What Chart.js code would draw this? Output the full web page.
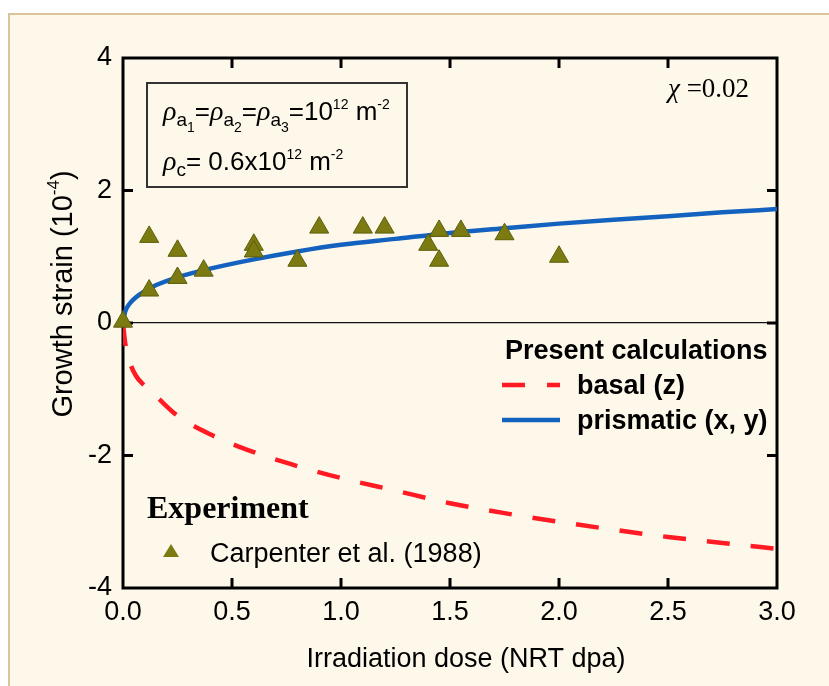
<!DOCTYPE html>
<html>
<head>
<meta charset="utf-8">
<script src="https://cdn.jsdelivr.net/npm/chart.js@4.4.1/dist/chart.umd.min.js"></script>
<style>
html, body { margin: 0; padding: 0; background: #fff; }
#frame {
    position: absolute; left: 8px; top: 13px; width: 821px; height: 673px;
    background: #fdf8ea; border-left: 2px solid #dcc39a; border-top: 2px solid #dcc39a;
}
#wrap { position: absolute; left: 0; top: 0; width: 829px; height: 686px; }
</style>
</head>
<body>
<div id="frame"></div>
<div id="wrap"><canvas id="chart" width="829" height="686"></canvas></div>
<script>
// calculated curves
const curveDose = [0, 0.01, 0.03, 0.06, 0.1, 0.15, 0.25, 0.4, 0.6, 0.8, 1.0, 1.25, 1.5, 1.75, 2.0, 2.25, 2.5, 2.75, 3.0]
const prismaticStrain = [0, 0.17, 0.29, 0.39, 0.48, 0.57, 0.69, 0.82, 0.96, 1.08, 1.18, 1.27, 1.36, 1.43, 1.5, 1.56, 1.61, 1.67, 1.72]
const basalStrain = [0, -0.3, -0.58, -0.8, -0.95, -1.1, -1.4, -1.68, -1.95, -2.16, -2.34, -2.53, -2.72, -2.87, -3.0, -3.12, -3.23, -3.32, -3.41]

// Carpenter et al. (1988)
const expDose = [0.0, 0.12, 0.12, 0.25, 0.25, 0.37, 0.6, 0.6, 0.8, 0.9, 1.1, 1.2, 1.4, 1.45, 1.45, 1.55, 1.75, 2.0]
const expStrain = [0.02, 1.30, 0.49, 1.09, 0.68, 0.79, 1.18, 1.08, 0.94, 1.44, 1.44, 1.44, 1.18, 1.39, 0.94, 1.39, 1.34, 1.0]

const xTicks = [0, 0.5, 1.0, 1.5, 2.0, 2.5, 3.0]
const yTicks = [-4, -2, 0, 2, 4]

const RED = '#ff1a24'
const BLUE = '#1462bf'
const OLIVE = '#7b7b12'
const SANS = '"Liberation Sans", Arial, sans-serif'
const SERIF = '"Liberation Serif", "Times New Roman", serif'

const toXY = (xs, ys) => xs.map((x, i) => ({ x: x, y: ys[i] }))

// draws a run of text pieces: [text, font, dy]
function drawRun(ctx, x, y, pieces) {
    pieces.forEach(([txt, font, dy]) => {
        ctx.font = font
        ctx.fillText(txt, x, y + (dy || 0))
        x += ctx.measureText(txt).width
    })
    return x
}

const decorations = {
    id: 'decorations',
    beforeDatasetsDraw(chart) {
        const { ctx, chartArea: a, scales } = chart
        ctx.save()
        ctx.strokeStyle = '#000'
        ctx.lineWidth = 3
        ctx.strokeRect(a.left, a.top, a.right - a.left, a.bottom - a.top)
        // inward ticks
        ctx.beginPath()
        xTicks.slice(1, -1).forEach((v) => {
            const px = scales.x.getPixelForValue(v)
            ctx.moveTo(px, a.bottom); ctx.lineTo(px, a.bottom - 10)
            ctx.moveTo(px, a.top); ctx.lineTo(px, a.top + 10)
        })
        yTicks.slice(1, -1).forEach((v) => {
            const py = scales.y.getPixelForValue(v)
            ctx.moveTo(a.left, py); ctx.lineTo(a.left + 10, py)
            ctx.moveTo(a.right, py); ctx.lineTo(a.right - 10, py)
        })
        ctx.stroke()
        ctx.restore()
    },
    afterDraw(chart) {
        const { ctx } = chart
        ctx.save()
        ctx.fillStyle = '#000'
        ctx.textBaseline = 'alphabetic'

        // axis titles
        ctx.font = '27px ' + SANS
        ctx.textAlign = 'center'
        ctx.fillText('Irradiation dose (NRT dpa)', 466, 667)
        ctx.textAlign = 'left'
        ctx.save()
        ctx.translate(72, 294)
        ctx.rotate(-Math.PI / 2)
        const t1 = 'Growth strain (10'
        ctx.font = '17px ' + SANS
        const supW = ctx.measureText('-4').width
        ctx.font = '29px ' + SANS
        const total = ctx.measureText(t1).width + supW + ctx.measureText(')').width
        drawRun(ctx, -total / 2, 0, [
            [t1, '29px ' + SANS, 0],
            ['-4', '17px ' + SANS, -13],
            [')', '29px ' + SANS, 0]
        ])
        ctx.restore()

        // parameter box
        ctx.strokeStyle = '#333'
        ctx.lineWidth = 2
        ctx.strokeRect(147, 83, 260, 104)
        const rho = 'italic 28px ' + SERIF
        const big = '26px ' + SANS
        const sub = '19px ' + SANS
        const tiny = '14px ' + SANS
        let x = 163
        x = drawRun(ctx, x, 120, [['\u03c1', rho, 0], ['a', sub, 6]])
        x = drawRun(ctx, x, 120, [['1', tiny, 12], ['=', big, 0], ['\u03c1', rho, 0], ['a', sub, 6]])
        x = drawRun(ctx, x, 120, [['2', tiny, 12], ['=', big, 0], ['\u03c1', rho, 0], ['a', sub, 6]])
        drawRun(ctx, x, 120, [['3', tiny, 12], ['=10', big, 0], ['12', tiny, -11], [' m', big, 0], ['-2', tiny, -11]])
        drawRun(ctx, 163, 170, [['\u03c1', rho, 0], ['c', sub, 6], ['= 0.6x10', big, 0], ['12', tiny, -11], [' m', big, 0], ['-2', tiny, -11]])

        // chi
        drawRun(ctx, 668, 97, [['\u03c7', 'italic 27px ' + SERIF, 0], [' =0.02', '27px ' + SERIF, 0]])

        // calculation legend
        ctx.font = 'bold 27px ' + SANS
        ctx.fillText('Present calculations', 505, 359)
        ctx.fillText('basal (z)', 577, 394)
        ctx.fillText('prismatic (x, y)', 577, 429)
        ctx.lineWidth = 4.5
        ctx.strokeStyle = RED
        ctx.setLineDash([23, 22])
        ctx.beginPath(); ctx.moveTo(502, 385); ctx.lineTo(560, 385); ctx.stroke()
        ctx.setLineDash([])
        ctx.strokeStyle = BLUE
        ctx.beginPath(); ctx.moveTo(502, 420); ctx.lineTo(560, 420); ctx.stroke()

        // experiment legend
        ctx.font = 'bold 32px ' + SERIF
        ctx.fillText('Experiment', 147, 518)
        ctx.font = '27px ' + SANS
        ctx.fillText('Carpenter et al. (1988)', 210, 562)
        ctx.fillStyle = OLIVE
        ctx.beginPath()
        ctx.moveTo(171, 544); ctx.lineTo(179, 557); ctx.lineTo(163, 557); ctx.closePath()
        ctx.fill()
        ctx.restore()
    }
}

const ctx = document.getElementById('chart')
const chart = new Chart(ctx, {
    type: 'scatter',
    data: {
        datasets: [
            {
                label: 'Carpenter et al. (1988)',
                data: toXY(expDose, expStrain),
                pointStyle: 'triangle',
                pointRadius: 11,
                backgroundColor: OLIVE,
                borderColor: '#5e5e0a',
                borderWidth: 1,
                clip: false
            },
            {
                label: 'prismatic (x, y)',
                data: toXY(curveDose, prismaticStrain),
                showLine: true,
                pointRadius: 0,
                borderColor: BLUE,
                borderWidth: 4.5,
                cubicInterpolationMode: 'monotone'
            },
            {
                label: 'basal (z)',
                data: toXY(curveDose, basalStrain),
                showLine: true,
                pointRadius: 0,
                borderColor: RED,
                borderWidth: 4.5,
                borderDash: [23, 21],
                cubicInterpolationMode: 'monotone'
            }
        ]
    },
    options: {
        responsive: false,
        animation: false,
        layout: { padding: { left: 0, top: 58, right: 52, bottom: 0 } },
        plugins: { legend: { display: false }, tooltip: { enabled: false } },
        scales: {
            x: {
                type: 'linear',
                min: 0,
                max: 3,
                afterFit: (s) => { s.height = 98 },
                afterBuildTicks: (s) => { s.ticks = xTicks.map((v) => ({ value: v })) },
                grid: { display: false, drawTicks: false },
                border: { display: false },
                ticks: {
                    padding: 8,
                    color: '#000',
                    font: { family: SANS, size: 27 },
                    callback: (v) => v.toFixed(1)
                }
            },
            y: {
                min: -4,
                max: 4,
                afterFit: (s) => { s.width = 123 },
                afterBuildTicks: (s) => { s.ticks = yTicks.map((v) => ({ value: v })) },
                grid: {
                    drawTicks: false,
                    lineWidth: 1.2,
                    color: (c) => (c.tick && c.tick.value === 0 ? '#111' : 'transparent')
                },
                border: { display: false },
                ticks: {
                    padding: 11,
                    color: '#000',
                    font: { family: SANS, size: 27 }
                }
            }
        }
    },
    plugins: [decorations]
})
</script>
</body>
</html>
